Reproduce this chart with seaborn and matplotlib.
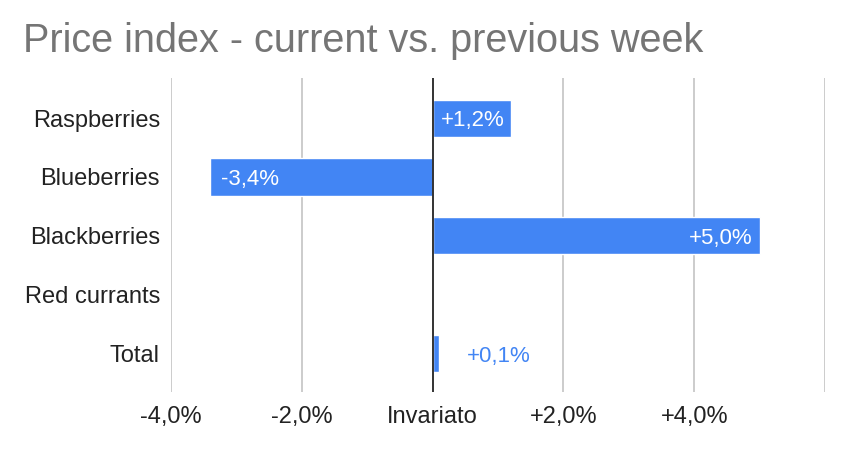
import matplotlib
matplotlib.use("Agg")
import matplotlib.pyplot as plt
import seaborn as sns
import pandas as pd

# data
categories = ["Raspberries", "Blueberries", "Blackberries", "Red currants", "Total"]
changes = [1.2, -3.4, 5.0, 0.0, 0.1]
bar_labels = ["+1,2%", "-3,4%", "+5,0%", "", "+0,1%"]
tick_values = [-4, -2, 0, 2, 4, 6]
tick_labels = ["-4,0%", "-2,0%", "Invariato", "+2,0%", "+4,0%", ""]

df = pd.DataFrame({"fruit": categories, "change": changes})

sns.set_theme(style="white")
plt.rcParams["font.family"] = ["Liberation Sans", "DejaVu Sans"]

blue = "#4285F4"
fig = plt.figure(figsize=(8.48, 4.51), dpi=100)
ax = fig.add_axes([171 / 848, 1 - 392 / 451, (825 - 171) / 848, (392 - 78) / 451])

sns.barplot(data=df, x="change", y="fruit", orient="h", color=blue,
            saturation=1, width=0.63, ax=ax)

ax.set_xlim(-4, 6)
ax.set_ylim(4.65, -0.68)
ax.set_xticks(tick_values)
ax.set_xticklabels(tick_labels, fontsize=17, color="#222222")
for t in ax.get_xticklabels():
    t.set_va("baseline")
ax.tick_params(axis="x", length=0, pad=22.5)
ax.tick_params(axis="y", length=0, pad=8, labelsize=17, labelcolor="#222222")
ax.set_xlabel("")
ax.set_ylabel("")
for s in ax.spines.values():
    s.set_visible(False)

for v in tick_values:
    if v != 0:
        ax.axvline(v, color="#cccccc", lw=1.4, zorder=0)
ax.axvline(0, color="#333333", lw=1.4, zorder=3)

# value labels
for i, (val, lab) in enumerate(zip(changes, bar_labels)):
    if not lab:
        continue
    if abs(val) < 0.5:
        ax.annotate(lab, (val, i), xytext=(20, 0), textcoords="offset points",
                    va="center_baseline", ha="left", fontsize=16, color=blue)
    elif val > 0:
        ax.annotate(lab, (val, i), xytext=(-5, 0), textcoords="offset points",
                    va="center_baseline", ha="right", fontsize=16, color="white")
    else:
        ax.annotate(lab, (val, i), xytext=(8, 0), textcoords="offset points",
                    va="center_baseline", ha="left", fontsize=16, color="white")

fig.text(23 / 848, 1 - 41 / 451, "Price index - current vs. previous week",
         fontsize=28.5, color="#757575", va="center", ha="left")

fig.savefig("out.png", dpi=100, facecolor="white")
